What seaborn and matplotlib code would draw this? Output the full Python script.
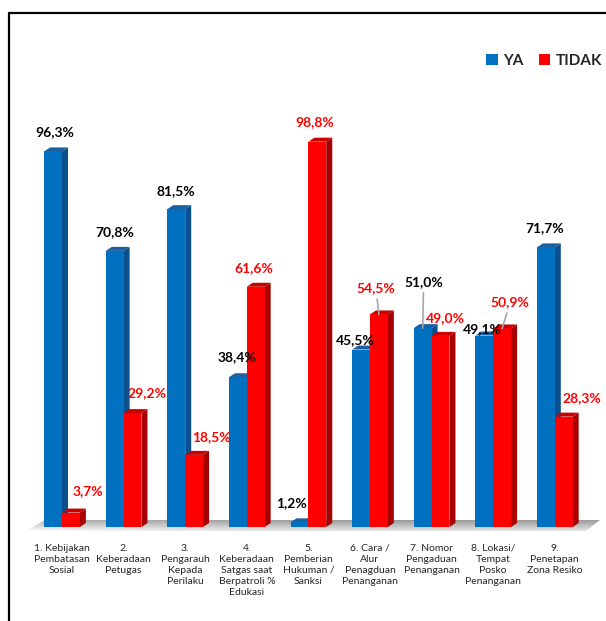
import numpy as np
import pandas as pd
import matplotlib
matplotlib.use("Agg")
import matplotlib.pyplot as plt
import seaborn as sns
from matplotlib.patches import Polygon, Patch
from matplotlib.lines import Line2D
from matplotlib.colors import to_rgb

# ---- data ----
kategori = [
    "1. Kebijakan\nPembatasan\nSosial",
    "2.\nKeberadaan\nPetugas",
    "3.\nPengarauh\nKepada\nPerilaku",
    "4.\nKeberadaan\nSatgas saat\nBerpatroli %\nEdukasi",
    "5.\nPemberian\nHukuman /\nSanksi",
    "6. Cara /\nAlur\nPenagduan\nPenanganan",
    "7. Nomor\nPengaduan\nPenanganan",
    "8. Lokasi/\nTempat\nPosko\nPenanganan",
    "9.\nPenetapan\nZona Resiko",
]
ya = [96.3, 70.8, 81.5, 38.4, 1.2, 45.5, 51.0, 49.1, 71.7]
tidak = [3.7, 29.2, 18.5, 61.6, 98.8, 54.5, 49.0, 50.9, 28.3]
seri = ["YA", "TIDAK"]

# ---- styling ----
warna = {"YA": "#0070C0", "TIDAK": "#FF0000"}
warna_sisi = {"YA": "#0B4F8C", "TIDAK": "#A80000"}
warna_atas = {"YA": "#1D5FA3", "TIDAK": "#C80000"}
warna_label = {"YA": "black", "TIDAK": "#FF0000"}
# label offsets (pixels) from the top centre of each bar
geser = {
    "YA": [(2, 19), (0, 19), (0, 18), (-1, 20), (-8, 19), (-6, 9), (1, 46), (-2, 6), (-1, 19)],
    "TIDAK": [(17, 21), (14, 20), (17, 18), (-2, 19), (-3, 20), (-3, 26), (5, 18), (8, 26), (18, 19)],
}
garis_penunjuk = {"YA": {6}, "TIDAK": {5, 7}}

W, H = 606, 621
sns.set_theme(style="white")
plt.rcParams["font.family"] = ["Lato", "DejaVu Sans"]

fig = plt.figure(figsize=(W / 100, H / 100), dpi=100)
ax_left, ax_right, ax_bottom, ax_top = 31.2, 585.6, 527, 98
ax = fig.add_axes([ax_left / W, 1 - ax_bottom / H, (ax_right - ax_left) / W, (ax_bottom - ax_top) / H])

df = pd.DataFrame({
    "kategori": kategori * 2,
    "jawaban": ["YA"] * len(ya) + ["TIDAK"] * len(tidak),
    "nilai": ya + tidak,
})

sns.barplot(data=df, x="kategori", y="nilai", hue="jawaban", hue_order=seri,
            palette=warna, width=0.58, saturation=1, legend=False, ax=ax,
            edgecolor="none", linewidth=0, zorder=3)

ax.set_xlim(-0.5, len(kategori) - 0.5)
ax.set_ylim(0, 110)
ax.set_xlabel("")
ax.set_ylabel("")
ax.set_yticks([])
for s in ax.spines.values():
    s.set_visible(False)
ax.tick_params(axis="x", length=0, pad=12, labelsize=7.5, labelcolor="#262626")
for t in ax.get_xticklabels():
    t.set_linespacing(1.3)
    t.set_verticalalignment("top")

# pixel -> data helpers
px_x = (ax_right - ax_left) / len(kategori)
px_y = (ax_bottom - ax_top) / 110.0
def dx(px):
    return px / px_x
def dy(px):
    return px / px_y

# floor under the bars with a soft gradient
lantai = [(26, 531), (45, 520), (600, 520), (586, 531)]
lantai_data = [((x - ax_left) / px_x - 0.5, (ax_bottom - y) / px_y) for x, y in lantai]
poly_lantai = Polygon(lantai_data, closed=True, facecolor="none", edgecolor="none",
                      transform=ax.transData, clip_on=False)
ax.add_patch(poly_lantai)
grad = np.linspace(0, 1, 64)[:, None] * np.ones((1, 256))
horiz = np.linspace(0, 1, 256)[None, :]
c_top = np.array(to_rgb("#9A9A9A"))
c_bot = np.array(to_rgb("#E4E4E4"))
img = c_top[None, None, :] * (1 - grad[..., None]) + c_bot[None, None, :] * grad[..., None]
img = np.clip(img + 0.10 * (1 - horiz[..., None]) ** 3, 0, 1)
xs = [p[0] for p in lantai_data]
ys = [p[1] for p in lantai_data]
im = ax.imshow(img, extent=(min(xs), max(xs), min(ys), max(ys)), origin="upper",
               aspect="auto", zorder=1)
im.set_clip_box(fig.bbox)
im.set_clip_path(poly_lantai)
ax.set_xlim(-0.5, len(kategori) - 0.5)
ax.set_ylim(0, 110)

# 3D side and top faces for each bar
ddx, ddy = dx(6), dy(4)
bars = [p for p in ax.patches if p is not poly_lantai]
for p in bars:
    fc = p.get_facecolor()
    key = "YA" if abs(fc[0] - to_rgb(warna["YA"])[0]) < 0.05 else "TIDAK"
    x0, w, h = p.get_x(), p.get_width(), p.get_height()
    sisi = Polygon([(x0 + w, 0), (x0 + w + ddx, ddy), (x0 + w + ddx, h + ddy), (x0 + w, h)],
                   closed=True, facecolor=warna_sisi[key], edgecolor="none", zorder=2)
    atas = Polygon([(x0, h), (x0 + ddx, h + ddy), (x0 + w + ddx, h + ddy), (x0 + w, h)],
                   closed=True, facecolor=warna_atas[key], edgecolor="none", zorder=2)
    ax.add_patch(sisi)
    ax.add_patch(atas)

# value labels
for key, vals in (("YA", ya), ("TIDAK", tidak)):
    side = -1 if key == "YA" else 1
    for i, v in enumerate(vals):
        xc = i + side * 0.58 / 4
        ox, oy = geser[key][i]
        teks = f"{v:.1f}".replace(".", ",") + "%"
        kw = {}
        if i in garis_penunjuk[key]:
            kw["arrowprops"] = dict(arrowstyle="-", color="#A6A6A6", lw=1.2,
                                    shrinkA=1, shrinkB=0)
        ax.annotate(teks, xy=(xc, v), xytext=(ox, oy), textcoords="offset pixels",
                    ha="center", va="center", fontsize=10, fontweight="bold",
                    color=warna_label[key], zorder=6, annotation_clip=False, **kw)

# legend
handles = [Patch(facecolor=warna[s], edgecolor="none", label=s) for s in seri]
leg = fig.legend(handles=handles, loc="center", ncol=2, frameon=False,
                 bbox_to_anchor=(544 / W, 1 - 61 / H), handlelength=0.75, handleheight=0.75,
                 handletextpad=0.35, columnspacing=1.0, borderaxespad=0,
                 prop={"family": ["Lato", "DejaVu Sans"], "weight": "bold", "size": 11})

# outer frame
fig.add_artist(Line2D([8.5 / W, 1.0], [1 - 12.5 / H, 1 - 12.5 / H], color="black", lw=1.6,
                      transform=fig.transFigure))
fig.add_artist(Line2D([8.5 / W, 8.5 / W], [0, 1 - 12.5 / H], color="black", lw=1.6,
                      transform=fig.transFigure))

fig.savefig("out.png", dpi=100)
